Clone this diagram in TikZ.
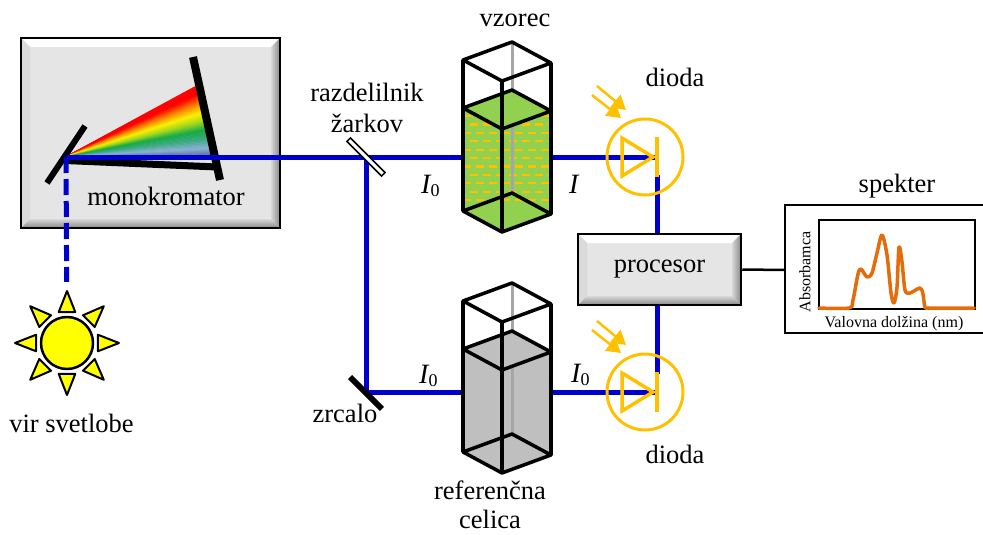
\documentclass[tikz,border=0pt]{standalone}
\usepackage{fontspec}
\setmainfont{Liberation Serif}
\usetikzlibrary{calc,arrows.meta}

\definecolor{beamblue}{RGB}{0,0,204}
\definecolor{diodeorange}{RGB}{255,192,0}
\definecolor{liquidgreen}{RGB}{146,208,80}
\definecolor{liquidgray}{RGB}{191,191,191}
\definecolor{edgegray}{RGB}{166,166,166}
\definecolor{facegray}{RGB}{229,229,229}
\definecolor{bevelleft}{RGB}{218,218,218}
\definecolor{bevellight}{RGB}{215,215,215}
\definecolor{beveldark}{RGB}{135,135,135}
\definecolor{curveorange}{RGB}{228,108,10}
\definecolor{sunyellow}{RGB}{255,255,0}
% dispersion fan colours, from the short to the long end
\definecolor{rb0}{RGB}{255,0,0}
\definecolor{rb1}{RGB}{255,0,0}
\definecolor{rb2}{RGB}{255,140,0}
\definecolor{rb3}{RGB}{255,240,0}
\definecolor{rb4}{RGB}{160,215,30}
\definecolor{rb5}{RGB}{20,170,70}
\definecolor{rb6}{RGB}{60,170,130}
\definecolor{rb7}{RGB}{140,175,215}
\definecolor{rb8}{RGB}{80,100,140}

\tikzset{
  px/.style={x=1pt,y=-1pt},
  lbl/.style={font=\fontsize{26.5}{31}\selectfont, inner sep=0pt, anchor=base},
  intens/.style={font=\fontsize{28}{31}\selectfont, inner sep=0pt, anchor=base west},
  axislbl/.style={font=\fontsize{16}{19}\selectfont, inner sep=0pt},
  beam/.style={draw=beamblue, line width=5pt},
  feed/.style={beam, dash pattern=on 16pt off 6pt},
  glass/.style={draw=black, line width=3.5pt, line join=round},
  hiddenedge/.style={draw=edgegray, line width=3pt},
  bubble/.style={draw=diodeorange, line width=2.2pt, dash pattern=on 8pt off 5pt},
  optic/.style={draw=black, line width=#1},
  sunray/.style={draw=black, fill=sunyellow, line width=2pt, line join=round},
  diodering/.style={circle, draw=diodeorange, line width=3pt, minimum size=76pt, inner sep=0pt},
  diodesym/.style={draw=diodeorange, line width=3.5pt, line join=miter},
  lightray/.style={draw=diodeorange, line width=2.5pt, -{Triangle[length=14pt,width=16pt]}},
  curve/.style={draw=curveorange, line width=3.5pt, line join=round, line cap=round},
  bevelbox/.style={rectangle, draw=black, line width=2.5pt, fill=facegray, inner sep=0pt,
    path picture={
      \path (path picture bounding box.north west) coordinate (bvA)
            (path picture bounding box.north east) coordinate (bvB)
            (path picture bounding box.south east) coordinate (bvC)
            (path picture bounding box.south west) coordinate (bvD);
      \fill[white] (bvA) -- (bvB) -- ([shift={(-9pt,-9pt)}]bvB) -- ([shift={(9pt,-9pt)}]bvA) -- cycle;
      \fill[bevelleft] (bvA) -- ([shift={(9pt,-9pt)}]bvA) -- ([shift={(9pt,9pt)}]bvD) -- (bvD) -- cycle;
      \shade[top color=bevellight, bottom color=beveldark]
        (bvD) -- ([shift={(9pt,9pt)}]bvD) -- ([shift={(-9pt,9pt)}]bvC) -- (bvC) -- cycle;
      \shade[left color=bevellight, right color=beveldark]
        (bvB) -- (bvC) -- ([shift={(-9pt,9pt)}]bvC) -- ([shift={(-9pt,-9pt)}]bvB) -- cycle;
    }},
}

% cuvette drawn from its top front corner: #1 corner, #2 liquid colour, #3 = 1 for suspended particles
\newcommand\drawcuvette[3]{%
  \begin{scope}[shift={#1}]
    \fill[#2] (-39,27) -- (10,9) -- (49,30) -- (49,133) -- (0,151) -- (-39,130) -- cycle;
    \ifnum#3=1
      \begin{scope}
        \clip (-39,27) -- (0,48) -- (49,30) -- (49,133) -- (0,151) -- (-39,130) -- cycle;
        \foreach \r in {0,...,10}{
          \pgfmathsetmacro\yy{35+8.4*\r}
          \pgfmathsetmacro\ph{mod(\r,2)*6.5}
          \draw[bubble, dash phase=\ph pt] (-39,\yy) -- (49,\yy);
        }
      \end{scope}
    \fi
    \draw[hiddenedge] (10,-39) -- (10,112);
    \fill[#2] (-39,27) -- (10,9) -- (49,30) -- (0,48) -- cycle;
    \draw[glass] (-39,-21) -- (10,-39) -- (49,-18) -- (0,0) -- cycle;
    \draw[glass] (-39,27) -- (10,9) -- (49,30) -- (0,48) -- cycle;
    \draw[glass] (-39,130) -- (10,112) -- (49,133) -- (0,151) -- cycle;
    \draw[glass] (-39,-21) -- (-39,130) (0,0) -- (0,151) (49,-18) -- (49,133);
  \end{scope}}

\begin{document}
\begin{tikzpicture}[px]
\useasboundingbox (0,0) rectangle (983,535);

% ---------- monochromator ----------
\node[bevelbox, minimum width=259pt, minimum height=190pt] (mono) at (150.5,133) {};
\coordinate (fanA) at (65,157);
\coordinate (fanG1) at (195,86.5);
\coordinate (fanG2) at (212,157);
\foreach \ca/\cb/\ta/\tb in {rb0/rb1/0/0.12, rb1/rb2/0.12/0.26, rb2/rb3/0.26/0.38,
    rb3/rb4/0.38/0.5, rb4/rb5/0.5/0.62, rb5/rb6/0.62/0.75, rb6/rb7/0.75/0.88, rb7/rb8/0.88/1}{
  \foreach \k in {0,...,5}{
    \pgfmathsetmacro\u{\ta+(\tb-\ta)*\k/6}
    \pgfmathsetmacro\v{\ta+(\tb-\ta)*(\k+1)/6}
    \pgfmathtruncatemacro\p{100*(\k+0.5)/6}
    \colorlet{fanc}{\cb!\p!\ca}
    \fill[fanc, draw=fanc, line width=0.4pt] (fanA) -- ($(fanG1)!\u!(fanG2)$) -- ($(fanG1)!\v!(fanG2)$) -- cycle;
  }
}
\draw[optic=7pt] (65,160.5) -- (217,167);
\draw[optic=8pt] (193,57) -- (220,180);
\draw[optic=6pt] (47,183) -- (85,126);
\node[lbl] (monotxt) at (166,205) {monokromator};

% ---------- light source ----------
\node[circle, minimum size=122pt, inner sep=0pt] (sun) at (67,343) {};
\foreach \a in {0,45,...,315}
  \filldraw[sunray] ([shift={(\a:52pt)}]sun.center) -- ([shift={(\a+15:32pt)}]sun.center)
    -- ([shift={(\a-15:32pt)}]sun.center) -- cycle;
\filldraw[sunray, line width=2.5pt] (sun.center) circle[radius=26pt];
\node[lbl] (suntxt) at (71.5,432) {vir svetlobe};

% ---------- beam paths ----------
\coordinate (src) at (66,157);
\coordinate (bs) at (366,157);
\coordinate (mir) at (366,392);
\coordinate (k1) at (657,157);
\coordinate (k2) at (657,392);
\coordinate (k1b) at (657,175);
\coordinate (k2t) at (657,374);
\node[bevelbox, minimum width=163pt, minimum height=71pt, font=\fontsize{26.5}{31}\selectfont] (proc) at (659.5,269.5) {procesor};

\draw[feed] (src) -- (sun);
\draw[beam] (src) -- (k1);
\draw[beam] (bs) -- (mir) -- (k2);
\draw[beam] (k1b) -- (k1b |- proc.north);
\draw[beam] (k2t) -- (k2t |- proc.south);

% ---------- beam splitter and mirror ----------
\node[draw=black, fill=white, line width=1.5pt, minimum width=49pt, minimum height=5pt,
      inner sep=0pt, rotate=-45] (split) at (bs) {};
\node[lbl] (splittxt1) at (367,101) {razdelilnik};
\node[lbl] (splittxt2) at (367,132) {žarkov};
\node[fill=black, minimum width=45pt, minimum height=6pt, inner sep=0pt, rotate=-45] (mirror) at (366,393) {};
\node[lbl] (mirtxt) at (345,422) {zrcalo};

% ---------- cuvettes ----------
\drawcuvette{(502,81)}{liquidgreen}{1}
\drawcuvette{(502,322)}{liquidgray}{0}
\node[lbl] (cell1txt) at (515,27) {vzorec};
\node[lbl] (cell2txt1) at (490,499) {referenčna};
\node[lbl] (cell2txt2) at (490,528) {celica};

\node[intens] (i0a) at (421,193) {\itshape I\raisebox{-3pt}{\upshape\fontsize{18}{18}\selectfont 0}};
\node[intens] (i1) at (569,193) {\itshape I};
\node[intens] (i0b) at (419,383) {\itshape I\raisebox{-3pt}{\upshape\fontsize{18}{18}\selectfont 0}};
\node[intens] (i0c) at (571,382) {\itshape I\raisebox{-3pt}{\upshape\fontsize{18}{18}\selectfont 0}};

% ---------- photodiodes ----------
\node[diodering] (d1) at (645,157) {};
\node[diodering] (d2) at (645,392) {};
\foreach \d in {d1,d2}{
  \draw[diodesym] ([shift={(-23,-19)}]\d.center) -- ([shift={(-23,19)}]\d.center)
    -- ([shift={(8,0)}]\d.center) -- cycle;
  \draw[draw=diodeorange, line width=4.5pt] ([shift={(12,-20)}]\d.center) -- ([shift={(12,20)}]\d.center);
  \draw[lightray] ([shift={(-48,-71)}]\d.center) -- ([shift={(-19,-47)}]\d.center);
  \draw[lightray] ([shift={(-53,-62)}]\d.center) -- ([shift={(-24,-39)}]\d.center);
}
\node[lbl] (d1txt) at (675,87) {dioda};
\node[lbl] (d2txt) at (675,463) {dioda};

% ---------- spectrum display ----------
\coordinate (specin) at (785,270);
\draw[line width=2.5pt] (proc.east) -- (specin);
\draw[line width=2pt] (983,205) -- (785,205) -- (785,333) -- (983,333);
\draw[line width=1.5pt] (819,220) rectangle (975,309);
\draw[curve] plot[smooth, tension=0.5] coordinates {
  (819,308) (849,308) (853,300) (858,274) (861,269) (867,277) (872,273) (877,253)
  (882,235) (887,255) (891,293) (894,303) (897,287) (899,247) (902,262) (905,290)
  (910,293) (920,288) (923,294) (925,307) (930,308) (974,308)};
\node[lbl] (spectxt) at (897,192) {spekter};
\node[axislbl, rotate=90] (ylbl) at (805,272) {Absorbamca};
\node[axislbl, anchor=base] (xlbl) at (894,327) {Valovna dolžina (nm)};
\end{tikzpicture}
\end{document}
